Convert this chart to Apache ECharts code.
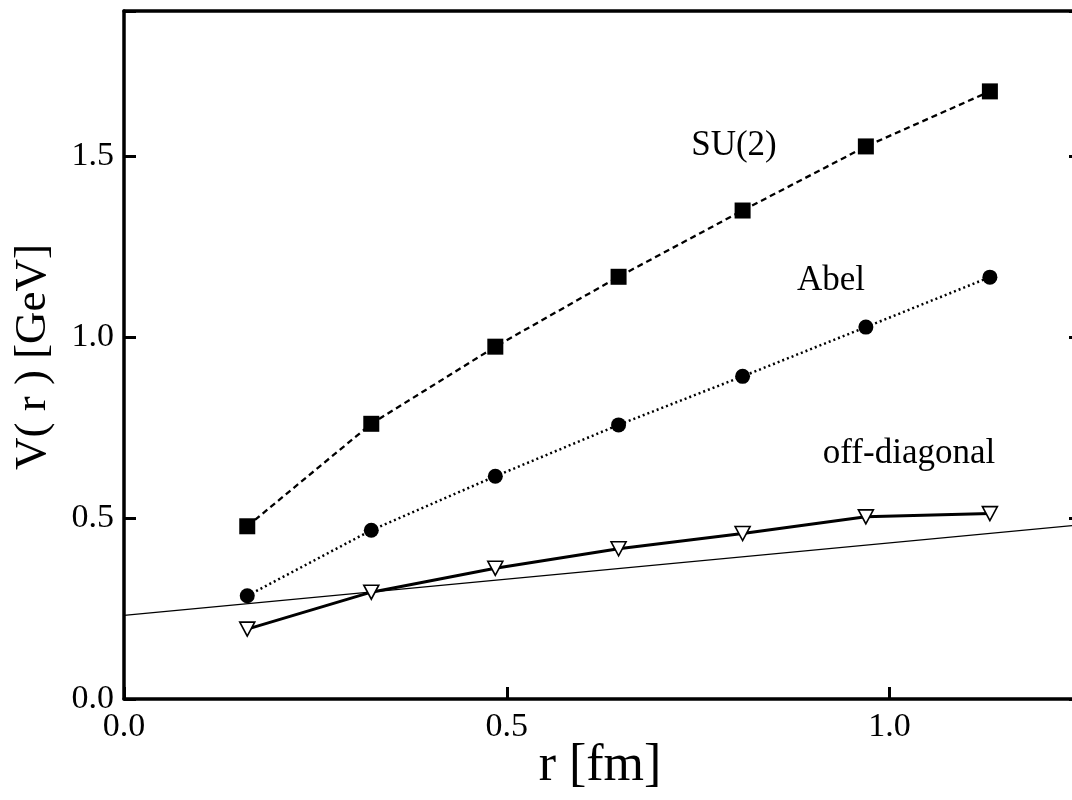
<!DOCTYPE html>
<html>
<head>
<meta charset="utf-8">
<script src="https://cdn.jsdelivr.net/npm/echarts@6/dist/echarts.min.js"></script>
<style>
html,body{margin:0;padding:0;background:#fff;}
#chart{width:1072px;height:800px;}
</style>
</head>
<body>
<div id="chart"></div>
<script>
// Data
var rValues = [0.161, 0.323, 0.485, 0.646, 0.808, 0.969, 1.131];
var su2 = [0.477, 0.760, 0.973, 1.166, 1.349, 1.526, 1.678];
var abel = [0.285, 0.466, 0.615, 0.757, 0.891, 1.027, 1.165];
var offDiagonal = [0.193, 0.295, 0.361, 0.415, 0.457, 0.503, 0.512];
var fitR = [0, 1.25];
var fitV = [0.231, 0.481];
var xTicks = [0.0, 0.5, 1.0];
var yTicks = [0.0, 0.5, 1.0, 1.5];
var labels = { su2: 'SU(2)', abel: 'Abel', off: 'off-diagonal' };

function pairs(xs, ys) { return xs.map(function (x, i) { return [x, ys[i]]; }); }
function tickFmt(list) {
  return function (v) {
    for (var i = 0; i < list.length; i++) if (Math.abs(list[i] - v) < 1e-6) return list[i].toFixed(1);
    return '';
  };
}

var FONT = 'Liberation Serif';
var chart = echarts.init(document.getElementById('chart'), null, { renderer: 'canvas' });
var axisLine = { show: true, onZero: false, lineStyle: { color: '#000', width: 3.5 } };
var tick = { show: true, inside: true, length: 12, lineStyle: { color: '#000', width: 3 } };
var tickLabel = { fontFamily: FONT, fontSize: 34, color: '#000' };

chart.setOption({
  animation: false,
  backgroundColor: '#fff',
  grid: { left: 124, top: 11, width: 957, height: 688, containLabel: false, outerBoundsMode: 'none' },
  xAxis: [
    { type: 'value', min: 0, max: 1.25, interval: 0.5, position: 'bottom',
      axisLine: axisLine, axisTick: tick, splitLine: { show: false },
      axisLabel: Object.assign({ margin: 11, formatter: tickFmt(xTicks) }, tickLabel) },
    { type: 'value', min: 0, max: 1.25, interval: 0.5, position: 'top',
      axisLine: axisLine, axisTick: { show: false }, splitLine: { show: false },
      axisLabel: { show: false } }
  ],
  yAxis: [
    { type: 'value', min: 0, max: 1.9, interval: 0.5, position: 'left',
      axisLine: axisLine, axisTick: tick, splitLine: { show: false },
      axisLabel: Object.assign({ margin: 10, formatter: tickFmt(yTicks) }, tickLabel) },
    { type: 'value', min: 0, max: 1.9, interval: 0.5, position: 'right',
      axisLine: axisLine, axisTick: tick, splitLine: { show: false },
      axisLabel: { show: false } }
  ],
  series: [
    { name: 'fit', type: 'line', data: pairs(fitR, fitV), symbol: 'none',
      lineStyle: { color: '#000', width: 1.3 }, z: 1 },
    { name: 'SU(2)', type: 'line', data: pairs(rValues, su2), symbol: 'rect', symbolSize: 16,
      itemStyle: { color: '#000' }, lineStyle: { color: '#000', width: 2.3, type: [6, 4] }, z: 3 },
    { name: 'Abel', type: 'line', data: pairs(rValues, abel), symbol: 'circle', symbolSize: 15,
      itemStyle: { color: '#000' }, lineStyle: { color: '#000', width: 2.5, type: [2, 3] }, z: 3 },
    { name: 'off-diagonal', type: 'line', data: pairs(rValues, offDiagonal), symbol: 'triangle',
      symbolRotate: 180, symbolSize: [15, 14],
      itemStyle: { color: '#fff', borderColor: '#000', borderWidth: 1.6 },
      lineStyle: { color: '#000', width: 3 }, z: 3 }
  ],
  graphic: [
    { type: 'text', x: 734, y: 146, style: { text: labels.su2, font: '35px "' + FONT + '"', fill: '#000', textAlign: 'center', textVerticalAlign: 'middle' } },
    { type: 'text', x: 831, y: 281, style: { text: labels.abel, font: '35px "' + FONT + '"', fill: '#000', textAlign: 'center', textVerticalAlign: 'middle' } },
    { type: 'text', x: 909, y: 454, style: { text: labels.off, font: '35px "' + FONT + '"', fill: '#000', textAlign: 'center', textVerticalAlign: 'middle' } },
    { type: 'text', x: 600, y: 766, style: { text: 'r [fm]', font: '52px "' + FONT + '"', fill: '#000', textAlign: 'center', textVerticalAlign: 'middle' } },
    { type: 'text', x: 33, y: 357, rotation: Math.PI / 2, style: { text: 'V( r ) [GeV]', font: '45px "' + FONT + '"', fill: '#000', textAlign: 'center', textVerticalAlign: 'middle' } }
  ]
});
</script>
</body>
</html>
